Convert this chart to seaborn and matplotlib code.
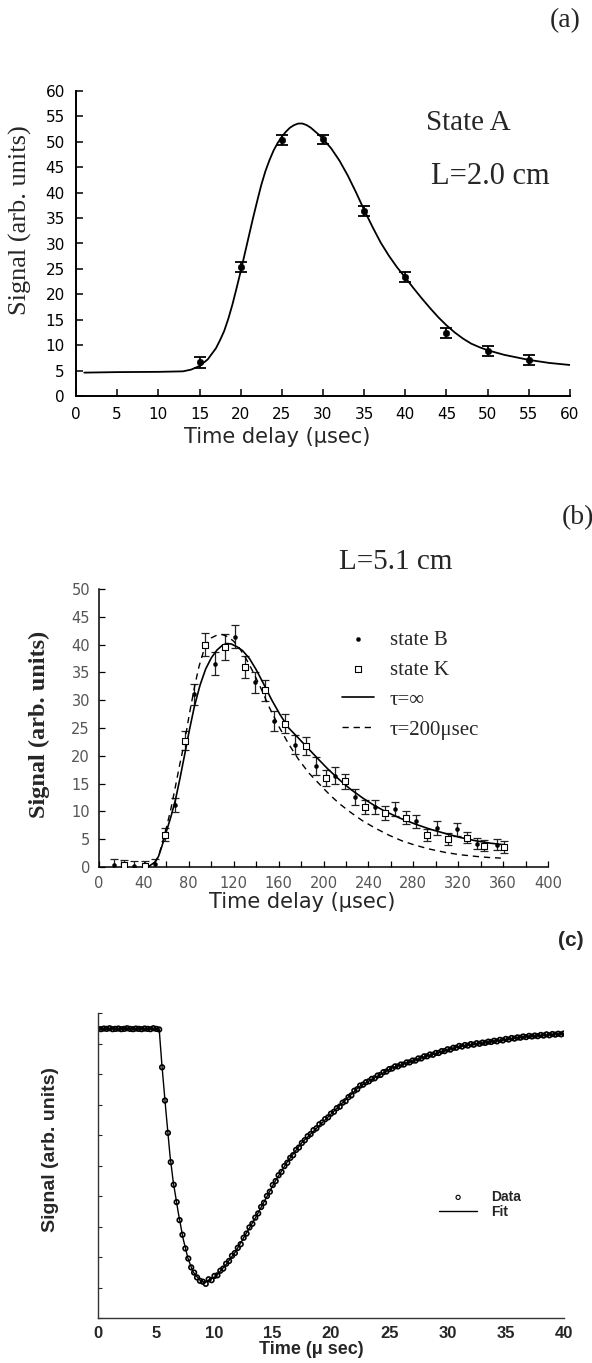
import matplotlib.pyplot as plt
import seaborn as sns

# ---------------- panel (a): State A, L=2.0 cm ----------------
a_time = [15, 20, 25, 30, 35, 40, 45, 50, 55]
a_signal = [6.6, 25.3, 50.3, 50.5, 36.4, 23.4, 12.4, 8.9, 7.0]
a_err = [1.0, 1.0, 1.0, 0.9, 1.0, 1.0, 1.0, 1.0, 1.0]
a_fit_time = [1, 5, 10, 13, 14, 15, 16, 17, 17.5, 18, 18.5, 19, 19.5, 20, 20.5, 21,
              21.5, 22, 22.5, 23, 23.5, 24, 24.5, 25, 25.5, 26, 26.5, 27, 27.5, 28,
              28.5, 29, 29.5, 30, 31, 32, 33, 34, 35, 36, 37, 38, 39, 40, 41, 42, 43,
              44, 45, 46, 47, 48, 49, 50, 52, 55, 57.5, 60]
a_fit_signal = [4.6, 4.7, 4.75, 4.85, 5.2, 5.9, 7.2, 9.4, 11.0, 12.8, 15.2, 18.0, 21.2,
                24.5, 28.0, 31.5, 35.0, 38.3, 41.5, 44.2, 46.4, 48.3, 49.8, 51.0, 52.0,
                52.8, 53.3, 53.6, 53.6, 53.3, 52.8, 52.1, 51.4, 50.6, 48.7, 46.3, 43.4,
                40.1, 36.6, 33.3, 30.2, 27.6, 25.3, 23.3, 21.2, 19.2, 17.3, 15.5, 13.9,
                12.5, 11.3, 10.3, 9.6, 9.0, 8.1, 7.1, 6.5, 6.1]

# ---------------- panel (b): L=5.1 cm ----------------
b_time_B = [13, 31, 50, 67.6, 85, 103, 121, 139, 156, 174.5, 193, 210, 228, 246,
            264, 282, 301, 319, 337, 355]
b_sig_B = [0.4, 0.1, 0.6, 11.2, 31.1, 36.6, 41.4, 33.2, 26.3, 22.0, 18.2, 16.4, 12.6,
           10.8, 10.4, 8.2, 7.0, 6.8, 4.2, 4.0]
b_err_B = [1.0, 0.9, 0.9, 1.3, 1.9, 2.0, 2.1, 1.9, 1.8, 1.7, 1.6, 1.5, 1.4, 1.3, 1.3,
           1.2, 1.2, 1.2, 1.0, 1.0]
b_time_K = [22, 41, 59, 76.5, 94, 112, 130, 148, 166, 184, 202, 219, 237, 255, 273.6,
            292, 310.7, 328, 343, 361]
b_sig_K = [0.3, 0.2, 5.8, 22.7, 40.0, 39.6, 36.0, 31.8, 25.8, 21.8, 16.0, 15.4, 10.8,
           9.7, 8.9, 5.8, 5.1, 5.3, 3.8, 3.6]
b_err_K = [0.9, 0.9, 1.2, 1.7, 2.0, 2.3, 2.0, 1.9, 1.7, 1.6, 1.5, 1.4, 1.3, 1.2, 1.2,
           1.1, 1.1, 1.0, 1.0, 1.0]
b_fit_time_inf = [40, 45, 50, 53, 56, 59.6, 64, 68, 72, 76.5, 80.5, 85, 90, 95, 100,
                  105, 110, 114, 118, 123, 128, 134, 140, 147, 154, 161, 169, 177.6,
                  186, 194.4, 204, 214.7, 224, 235, 245, 255, 268, 282, 295, 309, 322,
                  336, 348, 361]
b_fit_inf = [0, 0.2, 0.9, 1.9, 3.7, 6.1, 9.0, 12.0, 15.8, 20.4, 24.6, 28.9, 32.7, 35.6,
             37.6, 39.0, 39.9, 40.2, 40.1, 39.6, 38.9, 37.5, 35.5, 32.8, 30.0, 27.5,
             25.0, 23.2, 21.4, 19.6, 17.6, 15.6, 14.0, 12.4, 11.1, 10.0, 8.8, 7.7, 6.8,
             6.0, 5.3, 4.7, 4.3, 4.0]
b_fit_time_200 = [40, 45, 50, 53, 56, 59.6, 64, 68, 72, 76.5, 80.5, 85, 89, 93.3, 97,
                  100, 105, 110, 115, 120, 125, 130.4, 137, 143.9, 152, 160.7, 169,
                  177.6, 187, 197.8, 206, 214.7, 225, 234.9, 246, 258.5, 270, 282, 295,
                  309, 322, 336, 348, 358]
b_fit_200 = [0, 0.2, 0.9, 1.9, 4.0, 6.7, 10.4, 14.4, 18.5, 22.8, 27.5, 32.3, 36.0,
             38.9, 40.5, 41.2, 41.7, 41.8, 41.4, 40.6, 39.4, 37.7, 35.2, 32.3, 28.6,
             25.1, 22.1, 19.4, 16.9, 14.6, 12.9, 11.3, 9.7, 8.3, 7.0, 5.7, 4.7, 3.9,
             3.2, 2.6, 2.2, 1.9, 1.7, 1.6]

# ---------------- panel (c) ----------------
c_time = [0.0, 0.25, 0.5, 0.75, 1.0, 1.25, 1.5, 1.75, 2.0, 2.25, 2.5, 2.75, 3.0, 3.25,
          3.5, 3.75, 4.0, 4.25, 4.5, 4.75, 5.0, 5.25, 5.5, 5.75, 6.0, 6.25, 6.5, 6.75,
          7.0, 7.25, 7.5, 7.75, 8.0, 8.25, 8.5, 8.75, 9.0, 9.25, 9.5, 9.75, 10.0, 10.25,
          10.5, 10.75, 11.0, 11.25, 11.5, 11.75, 12.0, 12.25, 12.5, 12.75, 13.0, 13.25,
          13.5, 13.75, 14.0, 14.25, 14.5, 14.75, 15.0, 15.25, 15.5, 15.75, 16.0, 16.25,
          16.5, 16.75, 17.0, 17.25, 17.5, 17.75, 18.0, 18.25, 18.5, 18.75, 19.0, 19.25,
          19.5, 19.75, 20.0, 20.25, 20.5, 20.75, 21.0, 21.25, 21.5, 21.75, 22.0, 22.25,
          22.5, 22.75, 23.0, 23.25, 23.5, 23.75, 24.0, 24.25, 24.5, 24.75, 25.0, 25.25,
          25.5, 25.75, 26.0, 26.25, 26.5, 26.75, 27.0, 27.25, 27.5, 27.75, 28.0, 28.25,
          28.5, 28.75, 29.0, 29.25, 29.5, 29.75, 30.0, 30.25, 30.5, 30.75, 31.0, 31.25,
          31.5, 31.75, 32.0, 32.25, 32.5, 32.75, 33.0, 33.25, 33.5, 33.75, 34.0, 34.25,
          34.5, 34.75, 35.0, 35.25, 35.5, 35.75, 36.0, 36.25, 36.5, 36.75, 37.0, 37.25,
          37.5, 37.75, 38.0, 38.25, 38.5, 38.75, 39.0, 39.25, 39.5, 39.75, 40.0]
c_signal = [9.48, 9.47, 9.49, 9.48, 9.50, 9.47, 9.48, 9.49,
            9.47, 9.48, 9.50, 9.48, 9.47, 9.49, 9.48, 9.47,
            9.49, 9.48, 9.47, 9.50, 9.48, 9.46, 8.22, 7.13,
            6.07, 5.11, 4.37, 3.80, 3.21, 2.73, 2.28, 1.95,
            1.66, 1.49, 1.33, 1.22, 1.19, 1.12, 1.27, 1.24,
            1.38, 1.40, 1.55, 1.62, 1.78, 1.87, 2.04, 2.13,
            2.30, 2.42, 2.63, 2.77, 2.97, 3.09, 3.29, 3.43,
            3.64, 3.78, 4.00, 4.14, 4.36, 4.49, 4.68, 4.79,
            4.98, 5.09, 5.25, 5.34, 5.51, 5.59, 5.74, 5.83,
            5.96, 6.03, 6.16, 6.22, 6.35, 6.41, 6.52, 6.58,
            6.70, 6.76, 6.88, 6.93, 7.06, 7.11, 7.24, 7.30,
            7.45, 7.50, 7.62, 7.65, 7.73, 7.76, 7.84, 7.86,
            7.95, 7.97, 8.06, 8.08, 8.16, 8.18, 8.25, 8.25,
            8.31, 8.31, 8.38, 8.38, 8.44, 8.44, 8.51, 8.51,
            8.58, 8.58, 8.64, 8.63, 8.69, 8.69, 8.75, 8.75,
            8.81, 8.80, 8.86, 8.86, 8.92, 8.90, 8.95, 8.93,
            8.98, 8.96, 9.01, 8.99, 9.03, 9.02, 9.06, 9.05,
            9.09, 9.07, 9.12, 9.10, 9.15, 9.13, 9.18, 9.16,
            9.20, 9.19, 9.23, 9.21, 9.25, 9.23, 9.26, 9.24,
            9.28, 9.26, 9.30, 9.27, 9.31, 9.29, 9.32, 9.30,
            9.33]
c_fit_time = [0, 5.25, 5.48, 5.84, 6.18, 6.46, 6.88, 7.30, 7.72, 8.15, 8.71, 9.13, 9.55,
              10.1, 10.96, 11.8, 12.64, 13.48, 14.33, 15.17, 16.3, 17.5, 19.5, 22.4,
              25.2, 28.1, 31.0, 33.8, 36.7, 40]
c_fit_signal = [9.48, 9.48, 8.32, 6.74, 5.33, 4.46, 3.48, 2.61, 1.96, 1.52, 1.25, 1.17,
                1.25, 1.36, 1.74, 2.17, 2.72, 3.26, 3.86, 4.46, 5.15, 5.75, 6.5, 7.58,
                8.19, 8.57, 8.9, 9.06, 9.22, 9.32]

SERIF = 'Liberation Serif'
ARIAL = 'Liberation Sans'
GOTHIC = 'DejaVu Sans'

sns.set_theme(style='ticks', context='paper')
plt.rcParams['font.family'] = [GOTHIC]
plt.rcParams['axes.edgecolor'] = 'black'

W, H = 592, 1363
fig = plt.figure(figsize=(W / 100, H / 100), dpi=100)


def box(left, top, right, bottom):
    # pixel box -> figure fraction
    return [left / W, 1 - bottom / H, (right - left) / W, (bottom - top) / H]


def ftext(x, y, s, **kw):
    fig.text(x / W, 1 - y / H, s, ha='center', va='center', **kw)


# ---------------- (a) ----------------
ax_a = fig.add_axes(box(76, 91, 570, 396))
sns.lineplot(x=a_fit_time, y=a_fit_signal, ax=ax_a, color='black', lw=1.3)
ax_a.errorbar(a_time, a_signal, yerr=a_err, fmt='none', ecolor='black',
              elinewidth=1.3, capsize=4, capthick=1.3)
sns.scatterplot(x=a_time, y=a_signal, ax=ax_a, color='black', s=22, edgecolor='black')
ax_a.set_xlim(0, 60)
ax_a.set_ylim(0, 60)
ax_a.set_xticks(range(0, 61, 5))
ax_a.set_yticks(range(0, 61, 5))
sns.despine(ax=ax_a)
ax_a.tick_params(direction='in', length=5, width=1.1, labelsize=11, pad=8,
                 colors='black')
for sp in ax_a.spines.values():
    sp.set_linewidth(1.4)
ax_a.set_xlabel('')
ax_a.set_ylabel('')

ftext(565, 21, '(a)', family=SERIF, fontsize=20)
ftext(468, 123, 'State A', family=SERIF, fontsize=21)
ftext(490, 177, 'L=2.0 cm', family=SERIF, fontsize=22)
ftext(20, 220, 'Signal (arb. units)', rotation=90, family=SERIF, fontsize=19)
ftext(277, 437, 'Time delay (μsec)', family=GOTHIC, fontsize=15)

# ---------------- (b) ----------------
ax_b = fig.add_axes(box(99, 589, 548, 867))
ax_b.errorbar(b_time_B, b_sig_B, yerr=b_err_B, fmt='none', ecolor='#222222',
              elinewidth=0.9, capsize=3, capthick=0.9)
ax_b.errorbar(b_time_K, b_sig_K, yerr=b_err_K, fmt='none', ecolor='#222222',
              elinewidth=0.9, capsize=3, capthick=0.9)
sns.lineplot(x=b_fit_time_inf, y=b_fit_inf, ax=ax_b, color='black', lw=1.2,
             label='τ=∞')
sns.lineplot(x=b_fit_time_200, y=b_fit_200, ax=ax_b, color='black', lw=1.0,
             label='τ=200μsec')
ax_b.lines[-1].set_dashes([4.5, 3.5])
sns.scatterplot(x=b_time_B, y=b_sig_B, ax=ax_b, color='black', s=9,
                edgecolor='black', label='state B', zorder=4)
sns.scatterplot(x=b_time_K, y=b_sig_K, ax=ax_b, marker='s', s=16,
                facecolor='white', edgecolor='black', linewidth=0.8,
                label='state K', zorder=4)
ax_b.set_xlim(0, 400)
ax_b.set_ylim(0, 50)
ax_b.set_xticks(range(0, 401, 40))
ax_b.set_xticks(range(20, 400, 40), minor=True)
ax_b.set_yticks(range(0, 51, 5))
sns.despine(ax=ax_b)
ax_b.tick_params(which='both', direction='in', length=4, width=0.9, labelsize=10.5,
                 pad=6.5, colors='black', labelcolor='#555555')
for sp in ax_b.spines.values():
    sp.set_linewidth(1.1)
ax_b.set_xlabel('')
ax_b.set_ylabel('')
handles, labels = ax_b.get_legend_handles_labels()
order = [labels.index(k) for k in ['state B', 'state K', 'τ=∞', 'τ=200μsec']]
ax_b.legend([handles[i] for i in order], [labels[i] for i in order],
            loc='upper left', bbox_to_anchor=(342 / W, 1 - 630 / H),
            bbox_transform=fig.transFigure, frameon=False, borderpad=0,
            borderaxespad=0, handlelength=1.55, handletextpad=0.75,
            labelspacing=0.5, prop={'family': SERIF, 'size': 15})

ftext(578, 518, '(b)', family=SERIF, fontsize=20)
ftext(396, 562, 'L=5.1 cm', family=SERIF, fontsize=21)
ftext(39, 724, 'Signal (arb. units)', rotation=90, family=SERIF,
      fontweight='bold', fontsize=17.5)
ftext(302, 902, 'Time delay (μsec)', family=GOTHIC, fontsize=15)

# ---------------- (c) ----------------
ax_c = fig.add_axes(box(98, 1013, 564, 1318))
sns.lineplot(x=c_fit_time, y=c_fit_signal, ax=ax_c, color='black', lw=1.0,
             label='Fit')
sns.scatterplot(x=c_time, y=c_signal, ax=ax_c, marker='o', s=11,
                facecolor='none', edgecolor='black', linewidth=1.2,
                label='Data')
ax_c.set_xlim(0, 40)
ax_c.set_ylim(0, 10)
ax_c.set_xticks(range(0, 41, 5))
ax_c.set_yticks(range(0, 11))
ax_c.set_yticklabels([])
sns.despine(ax=ax_c)
ax_c.tick_params(axis='y', direction='in', length=3, width=0.8)
ax_c.tick_params(axis='x', direction='in', length=0, labelsize=12, pad=6)
for lab in ax_c.get_xticklabels():
    lab.set_fontfamily(ARIAL)
    lab.set_fontweight('bold')
for sp in ax_c.spines.values():
    sp.set_linewidth(1.0)
    sp.set_color('#333333')
ax_c.set_xlabel('')
ax_c.set_ylabel('')
handles, labels = ax_c.get_legend_handles_labels()
order = [labels.index(k) for k in ['Data', 'Fit']]
ax_c.legend([handles[i] for i in order], [labels[i] for i in order],
            loc='upper left', bbox_to_anchor=(439 / W, 1 - 1190 / H),
            bbox_transform=fig.transFigure, frameon=False, borderpad=0,
            borderaxespad=0, handlelength=2.75, handletextpad=1.0,
            labelspacing=0.05, prop={'family': ARIAL, 'weight': 'bold', 'size': 10})
leg = ax_c.get_legend()
leg.legend_handles[0].set_sizes([9])
leg.legend_handles[0].set_linewidths([0.8])

ftext(571, 941, '(c)', family=ARIAL, fontweight='bold', fontsize=15)
ftext(51, 1149, 'Signal (arb. units)', rotation=90, family=ARIAL,
      fontweight='bold', fontsize=14)
ftext(311, 1349, 'Time (μ sec)', family=ARIAL, fontweight='bold', fontsize=13)

fig.savefig('out.png', dpi=100)
